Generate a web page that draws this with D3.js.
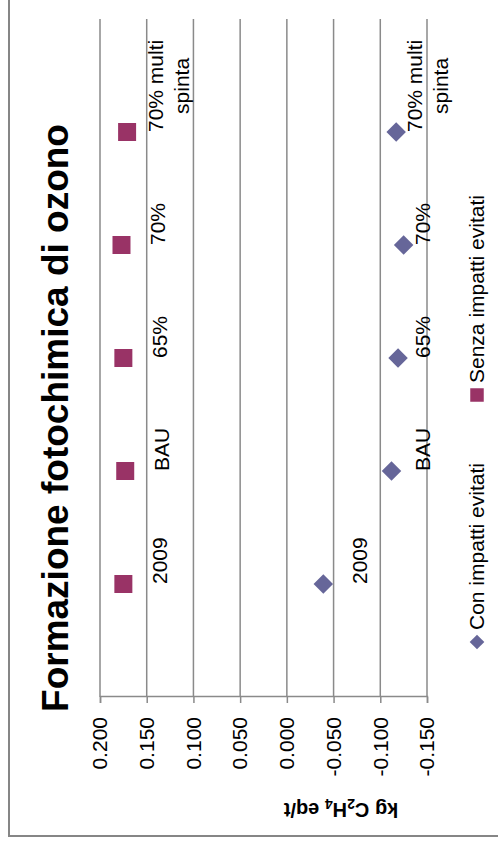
<!DOCTYPE html>
<html lang="it">
<head>
<meta charset="UTF-8">
<title>Formazione fotochimica di ozono</title>
<script src="https://cdn.jsdelivr.net/npm/d3@7"></script>
<style>
  body { margin: 0; background: #fff; }
  text { font-family: "Liberation Sans", Arial, sans-serif; }
</style>
</head>
<body>
<script>
// dati
var categories = ["2009", "BAU", "65%", "70%", "70% multi spinta"];
var conImpatti = [-0.039, -0.112, -0.119, -0.125, -0.117];
var senzaImpatti = [0.175, 0.173, 0.175, 0.177, 0.171];
var yTicks = [0.2, 0.15, 0.1, 0.05, 0, -0.05, -0.1, -0.15];
var seriesNames = ["Con impatti evitati", "Senza impatti evitati"];

var W = 843, H = 498;   // grafico originale, poi ruotato di -90°

var svg = d3.select("body").append("svg")
    .attr("width", 498)
    .attr("height", 843);

// tutto il grafico e' disegnato "orizzontale" e poi girato
var g = svg.append("g")
    .attr("transform", "translate(0," + W + ") rotate(-90)");

g.append("rect")
    .attr("x", 7).attr("y", 9)
    .attr("width", 900).attr("height", 600)
    .attr("fill", "none")
    .attr("stroke", "#868686")
    .attr("stroke-width", 2);

var x = d3.scaleLinear().domain([0, 6]).range([146, 824]);
var y = d3.scaleLinear().domain([-0.15, 0.2]).range([427, 100]);

// griglia
g.append("g").selectAll("line")
    .data(yTicks)
    .enter().append("line")
    .attr("x1", 146).attr("x2", 824)
    .attr("y1", function(d) { return y(d); })
    .attr("y2", function(d) { return y(d); })
    .attr("stroke", "#8a8a8a")
    .attr("stroke-width", 1.5);

var axis = g.append("g")
    .attr("transform", "translate(146,0)")
    .call(d3.axisLeft(y)
        .tickValues(yTicks)
        .tickFormat(function(d) { return d.toFixed(3); })
        .tickSize(6)
        .tickPadding(14));
axis.selectAll("path, line").attr("stroke", "#8a8a8a").attr("stroke-width", 1.5);
axis.selectAll("text")
    .attr("font-size", 21)
    .attr("fill", "#000")
    .style("font-family", "Liberation Sans, Arial, sans-serif");

// titolo
g.append("text")
    .attr("x", 425).attr("y", 68)
    .attr("text-anchor", "middle")
    .attr("font-size", 37)
    .attr("font-weight", "bold")
    .text("Formazione fotochimica di ozono");

// titolo asse
var at = g.append("text")
    .attr("transform", "translate(40,341) rotate(-90)")
    .attr("text-anchor", "middle")
    .attr("font-size", 20)
    .attr("font-weight", "bold");
at.append("tspan").text("kg C");
at.append("tspan").attr("font-size", 14).attr("dy", 4).text("2");
at.append("tspan").attr("dy", -4).text("H");
at.append("tspan").attr("font-size", 14).attr("dy", 4).text("4");
at.append("tspan").attr("dy", -4).text(" eq/t");

var square = d3.symbol().type(d3.symbolSquare).size(324);
var diamond = d3.symbol().type(d3.symbolSquare).size(190);

var series = [
    { name: seriesNames[0], values: conImpatti, color: "#666699", sym: diamond, rot: 45 },
    { name: seriesNames[1], values: senzaImpatti, color: "#993366", sym: square, rot: 0 }
];

// spezza le etichette troppo lunghe
function wrapWords(text, maxW) {
    var probe = g.append("text").attr("font-size", 21);
    var words = text.split(" "), lines = [], cur = "";
    words.forEach(function(w) {
        var t = cur ? cur + " " + w : w;
        probe.text(t);
        if (probe.node().getComputedTextLength() > maxW && cur) {
            lines.push(cur);
            cur = w;
        } else {
            cur = t;
        }
    });
    lines.push(cur);
    probe.remove();
    return lines;
}

series.forEach(function(s) {
    var sg = g.append("g");
    sg.selectAll("path")
        .data(s.values)
        .enter().append("path")
        .attr("d", s.sym)
        .attr("fill", s.color)
        .attr("transform", function(d, i) {
            return "translate(" + x(i + 1) + "," + y(d) + ") rotate(" + s.rot + ")";
        });

    // etichette dati sotto i marker, tenute dentro l'area del grafico
    s.values.forEach(function(d, i) {
        var lines = wrapWords(categories[i], 100);
        var base = Math.min(y(d) + 44, 430) - (lines.length - 1) * 8;
        var lbl = sg.append("text")
            .attr("font-size", 21)
            .attr("fill", "#000");
        lines.forEach(function(l, k) {
            lbl.append("tspan")
                .attr("x", x(i + 1))
                .attr("y", base + k * 26)
                .text(l);
        });
        var blockW = lbl.node().getBBox().width;
        lbl.selectAll("tspan")
            .attr("text-anchor", "middle")
            .attr("x", x(i + 1) + blockW / 2);
    });
});

// legenda
var legU = [201, 448];
series.forEach(function(s, i) {
    g.append("path")
        .attr("d", s.sym)
        .attr("fill", s.color)
        .attr("transform", "translate(" + legU[i] + ",477) rotate(" + s.rot + ") scale(0.75)");
    g.append("text")
        .attr("x", legU[i] + 12).attr("y", 477)
        .attr("dy", "0.35em")
        .attr("font-size", 21)
        .text(s.name);
});
</script>
</body>
</html>
